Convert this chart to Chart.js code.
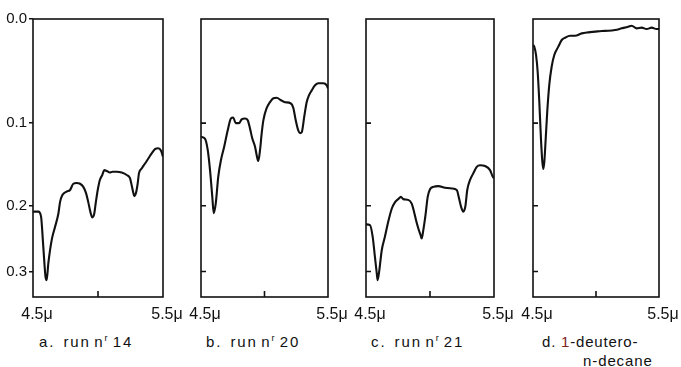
<!DOCTYPE html>
<html><head><meta charset="utf-8">
<script src="https://cdn.jsdelivr.net/npm/chart.js@4/dist/chart.umd.min.js"></script>
<style>
html,body{margin:0;padding:0;background:#fff;width:681px;height:367px;overflow:hidden;position:relative;}
canvas{position:absolute;top:0;}
.cap{position:absolute;font-family:'Liberation Sans',Arial,sans-serif;font-size:15px;letter-spacing:1.9px;word-spacing:-2.5px;color:#111;white-space:nowrap;line-height:1;}
.cap .g{word-spacing:2px;}
.cap sup{font-size:9px;vertical-align:6px;letter-spacing:1.5px;}
.cap .red{color:#7d2424;}
</style></head><body>
<canvas id="pa"></canvas><canvas id="pb"></canvas><canvas id="pc"></canvas><canvas id="pd"></canvas>
<div class="cap" id="ca" style="left:39px;top:334px;">a.<span class="g"> </span>run n<sup>r</sup> 14</div>
<div class="cap" id="cb" style="left:206px;top:334px;">b.<span class="g"> </span>run n<sup>r</sup> 20</div>
<div class="cap" id="cc" style="left:371px;top:334px;">c.<span class="g"> </span>run n<sup>r</sup> 21</div>
<div class="cap" id="cd1" style="left:542px;top:334px;letter-spacing:0.8px;word-spacing:0;">d. <span class="red">1</span>-deutero-</div>
<div class="cap" id="cd2" style="left:583px;top:353px;letter-spacing:0.9px;word-spacing:0;">n-decane</div>
<script>
// ---- data (absorbance vs wavelength in micron) ----
const wavelengthA = [4.5,4.541,4.562,4.579,4.598,4.605,4.618,4.644,4.669,4.695,4.708,4.725,4.759,4.785,4.81,4.836,4.862,4.887,4.908,4.925,4.941,4.956,4.971,4.982,4.998,5.015,5.033,5.048,5.067,5.092,5.11,5.144,5.182,5.221,5.246,5.259,5.272,5.279,5.292,5.305,5.315,5.336,5.362,5.387,5.413,5.438,5.464,5.485,5.5];
const absorbanceA = [0.208,0.208,0.215,0.259,0.312,0.315,0.286,0.249,0.230,0.211,0.195,0.186,0.181,0.179,0.171,0.170,0.171,0.175,0.183,0.195,0.208,0.216,0.211,0.197,0.179,0.166,0.160,0.154,0.155,0.157,0.156,0.156,0.157,0.160,0.164,0.173,0.183,0.187,0.183,0.171,0.158,0.152,0.146,0.140,0.134,0.129,0.128,0.131,0.138];

const wavelengthB = [4.5,4.531,4.553,4.571,4.589,4.6,4.616,4.636,4.657,4.683,4.71,4.736,4.754,4.773,4.799,4.82,4.846,4.868,4.886,4.904,4.925,4.941,4.951,4.965,4.978,4.991,5.017,5.043,5.07,5.096,5.13,5.161,5.205,5.227,5.246,5.266,5.28,5.293,5.313,5.332,5.35,5.372,5.398,5.424,5.463,5.49,5.5];
const absorbanceB = [0.115,0.117,0.130,0.154,0.188,0.210,0.197,0.162,0.142,0.126,0.108,0.095,0.094,0.100,0.100,0.096,0.095,0.097,0.106,0.117,0.126,0.138,0.143,0.130,0.111,0.097,0.084,0.078,0.074,0.0735,0.076,0.078,0.079,0.084,0.097,0.108,0.111,0.110,0.093,0.078,0.071,0.066,0.061,0.059,0.059,0.061,0.064];

const wavelengthC = [4.5,4.531,4.552,4.57,4.584,4.591,4.604,4.623,4.648,4.674,4.701,4.727,4.752,4.773,4.791,4.83,4.857,4.875,4.891,4.909,4.927,4.935,4.948,4.966,4.982,5.0,5.026,5.065,5.117,5.17,5.209,5.227,5.242,5.26,5.276,5.291,5.313,5.338,5.365,5.391,5.43,5.469,5.49,5.5];
const absorbanceC = [0.226,0.227,0.244,0.276,0.303,0.315,0.298,0.265,0.244,0.222,0.204,0.195,0.191,0.188,0.191,0.192,0.197,0.208,0.220,0.232,0.242,0.247,0.234,0.211,0.188,0.178,0.175,0.174,0.176,0.177,0.179,0.190,0.201,0.208,0.201,0.179,0.166,0.158,0.150,0.148,0.149,0.154,0.162,0.164];

const wavelengthD = [4.5,4.51,4.524,4.537,4.55,4.563,4.574,4.582,4.59,4.601,4.613,4.629,4.648,4.669,4.701,4.728,4.754,4.794,4.833,4.887,4.939,4.992,5.045,5.098,5.151,5.204,5.256,5.283,5.323,5.363,5.402,5.442,5.481,5.5];
const absorbanceD = [0.0229,0.0244,0.032,0.0478,0.0775,0.1168,0.1439,0.1527,0.1439,0.1168,0.0879,0.0607,0.043,0.032,0.0244,0.0184,0.0164,0.0146,0.0146,0.0125,0.0116,0.011,0.0104,0.0102,0.0095,0.0081,0.0067,0.0058,0.0081,0.0075,0.0087,0.0075,0.0087,0.0087];

const yTickValues = [0.0, 0.1, 0.2, 0.3];      // absorbance tick labels
const yInnerTickValues = [0.1, 0.2, 0.3];
const xTickValues = [4.5, 5.5];                 // labelled wavelength ticks
const xInnerTickValues = [5.0];
const absorbanceRange = [0.0, 0.346];
const xRange = [4.5, 5.5];

// ---- drawing ----
const INK = '#111111';
const FONT = "'Liberation Sans', Arial, sans-serif";
const toT = a => Math.pow(10, -a);   // chart axis is linear in transmittance

const framePlugin = {
  id: 'frame',
  afterDraw(chart, args, opts) {
    const {ctx, chartArea: {left, right, top, bottom}, scales: {x, y}} = chart;
    ctx.save();
    ctx.strokeStyle = INK; ctx.lineWidth = 1.6; ctx.lineCap = 'butt';
    ctx.strokeRect(left, top, right - left, bottom - top);
    ctx.beginPath();
    xInnerTickValues.forEach(v => { const px = x.getPixelForValue(v); ctx.moveTo(px, bottom); ctx.lineTo(px, bottom - 6); });
    if (opts.inwardY) {
      yInnerTickValues.forEach(a => { const py = y.getPixelForValue(toT(a)); ctx.moveTo(left, py); ctx.lineTo(left + 5, py); });
    }
    ctx.stroke();
    ctx.restore();
  }
};

const panels = [
  {id: 'pa', x: wavelengthA, a: absorbanceA, showY: true},
  {id: 'pb', x: wavelengthB, a: absorbanceB, showY: false},
  {id: 'pc', x: wavelengthC, a: absorbanceC, showY: false},
  {id: 'pd', x: wavelengthD, a: absorbanceD, showY: false}
];
const frames = {pa: [33, 163], pb: [201, 328], pc: [366, 494], pd: [533, 659]};
const SIDE = 30;

panels.forEach(p => {
  const [l, r] = frames[p.id];
  const cv = document.getElementById(p.id);
  const canvasLeft = p.showY ? 0 : l - SIDE;
  const padL = p.showY ? 0 : SIDE, padR = SIDE;
  cv.width = r - canvasLeft + padR; cv.height = 330;
  cv.style.left = canvasLeft + 'px';
  new Chart(cv, {
    type: 'line',
    data: {datasets: [{
      data: p.x.map((w, i) => ({x: w, y: toT(p.a[i])})),
      borderColor: INK, borderWidth: 2.1, pointRadius: 0, fill: false,
      cubicInterpolationMode: 'monotone'
    }]},
    options: {
      responsive: false, animation: false, devicePixelRatio: 1,
      layout: {padding: {left: padL, right: padR, top: 19, bottom: 0}},
      plugins: {legend: {display: false}, tooltip: {enabled: false}, frame: {inwardY: !p.showY}},
      scales: {
        x: {
          type: 'linear', min: xRange[0], max: xRange[1],
          afterBuildTicks: ax => { ax.ticks = xTickValues.map(v => ({value: v})); },
          afterFit: ax => { ax.height = 33; },
          ticks: {autoSkip: false, maxRotation: 0, padding: 8, labelOffset: 4, color: INK, font: {family: FONT, size: 16}, callback: v => v.toFixed(1) + 'μ'},
          grid: {display: false, drawTicks: false}, border: {display: false}
        },
        y: {
          type: 'linear', min: toT(absorbanceRange[1]), max: toT(absorbanceRange[0]), display: p.showY,
          afterBuildTicks: ax => { ax.ticks = yTickValues.map(a => ({value: toT(a)})); },
          afterFit: ax => { ax.width = p.showY ? 33 : 0; },
          ticks: {padding: 2, color: INK, font: {family: FONT, size: 15}, callback: v => Math.abs(-Math.log10(v)).toFixed(1)},
          grid: {drawOnChartArea: false, drawTicks: true, tickLength: 4, color: INK, lineWidth: 1.5},
          border: {display: false}
        }
      }
    },
    plugins: [framePlugin]
  });
});
</script>
</body></html>
